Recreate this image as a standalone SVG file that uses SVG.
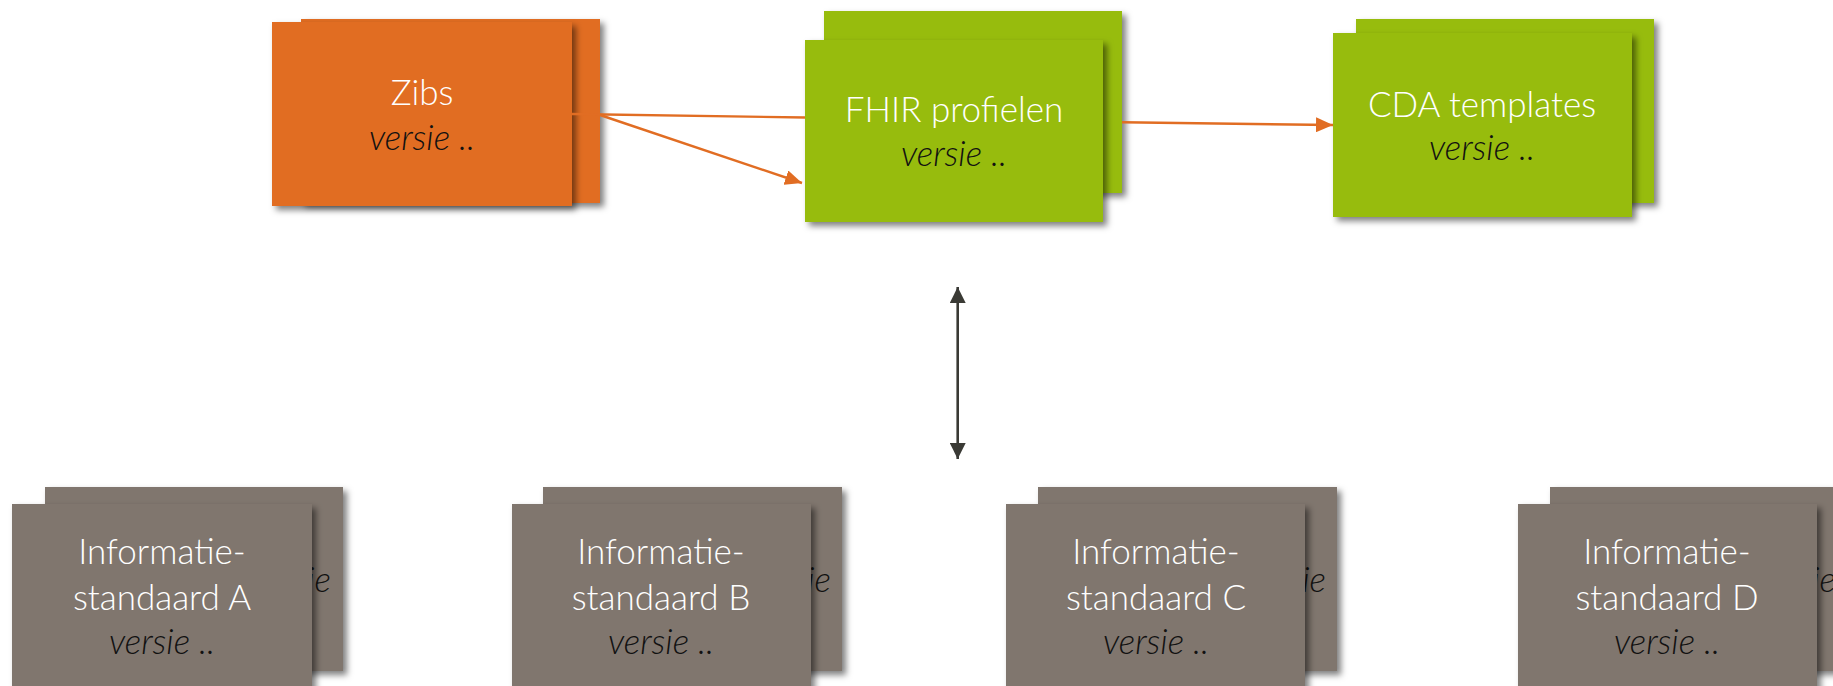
<svg xmlns="http://www.w3.org/2000/svg" width="1833" height="686" viewBox="0 0 1833 686">
<style>
.t{font-family:"Lato","Open Sans","Liberation Sans",sans-serif;font-weight:300;font-size:35px;fill:#ffffff;text-anchor:middle}
.v{font-family:"Lato","Open Sans","Liberation Sans",sans-serif;font-weight:300;font-style:italic;font-size:35px;fill:#111111;text-anchor:middle}
.ve{font-family:"Lato","Open Sans","Liberation Sans",sans-serif;font-weight:300;font-style:italic;font-size:35px;fill:#111111;text-anchor:end}
.or{fill:#E16D23;filter:url(#sh)}
.gr{fill:#97BC0E;filter:url(#sh)}
.gy{fill:#80766E;filter:url(#sh)}
.c{stroke:#E16D23;stroke-width:2.4;fill:none}
.d{stroke:#3A3A35;stroke-width:2.6;fill:none}
</style>
<defs>
<filter id="sh" x="-10%" y="-10%" width="125%" height="125%">
<feDropShadow dx="4" dy="4" stdDeviation="3" flood-color="#000" flood-opacity="0.5"/>
</filter>
<marker id="ao" viewBox="0 0 10 10" refX="10" refY="5" markerWidth="17" markerHeight="15" markerUnits="userSpaceOnUse" orient="auto" preserveAspectRatio="none">
<path d="M0,0 L10,5 L0,10 z" fill="#E16D23"/>
</marker>
<marker id="ad" viewBox="0 0 10 10" refX="10" refY="5" markerWidth="16" markerHeight="16" markerUnits="userSpaceOnUse" orient="auto-start-reverse">
<path d="M0,0 L10,5 L0,10 z" fill="#3A3A35"/>
</marker>
</defs>
<rect width="1833" height="686" fill="#ffffff"/>
<g id="zibs">
<rect class="or" x="301" y="19" width="299" height="184"/>
<rect class="or" x="272" y="22" width="300" height="184"/>
<text class="t" x="422" y="105">Zibs</text>
<text class="v" x="422" y="150">versie ..</text>
</g>
<g id="fhir">
<rect class="gr" x="824" y="11" width="298" height="182"/>
<rect class="gr" x="805" y="40" width="298" height="182"/>
<text class="t" x="954" y="122">FHIR profielen</text>
<text class="v" x="954" y="166">versie ..</text>
</g>
<g id="cda">
<rect class="gr" x="1356" y="19" width="298" height="184"/>
<rect class="gr" x="1333" y="33" width="299" height="184"/>
<text class="t" x="1482" y="117">CDA templates</text>
<text class="v" x="1482" y="160">versie ..</text>
</g>
<g id="isA">
<rect class="gy" x="45" y="487" width="298" height="184"/>
<text class="ve" x="331" y="592">ie</text>
<rect class="gy" x="12" y="504" width="300" height="190"/>
<text class="t" x="162" y="564">Informatie-</text>
<text class="t" x="162" y="610">standaard A</text>
<text class="v" x="162" y="654">versie ..</text>
</g>
<g id="isB">
<rect class="gy" x="543" y="487" width="299" height="184"/>
<text class="ve" x="831" y="592">ie</text>
<rect class="gy" x="512" y="504" width="299" height="190"/>
<text class="t" x="661" y="564">Informatie-</text>
<text class="t" x="661" y="610">standaard B</text>
<text class="v" x="661" y="654">versie ..</text>
</g>
<g id="isC">
<rect class="gy" x="1038" y="487" width="299" height="184"/>
<text class="ve" x="1326" y="592">ie</text>
<rect class="gy" x="1006" y="504" width="299" height="190"/>
<text class="t" x="1156" y="564">Informatie-</text>
<text class="t" x="1156" y="610">standaard C</text>
<text class="v" x="1156" y="654">versie ..</text>
</g>
<g id="isD">
<rect class="gy" x="1550" y="487" width="299" height="184"/>
<text class="ve" x="1836" y="592">ie</text>
<rect class="gy" x="1518" y="504" width="299" height="190"/>
<text class="t" x="1667" y="564">Informatie-</text>
<text class="t" x="1667" y="610">standaard D</text>
<text class="v" x="1667" y="654">versie ..</text>
</g>
<g id="connectors">
<line class="c" x1="572" y1="114" x2="805" y2="117.5"/>
<line class="c" x1="600" y1="115" x2="802" y2="183" marker-end="url(#ao)"/>
<line class="c" x1="1122" y1="122.3" x2="1333" y2="125" marker-end="url(#ao)"/>
<line class="d" x1="957.7" y1="287" x2="957.7" y2="459" marker-start="url(#ad)" marker-end="url(#ad)"/>
</g>
</svg>
